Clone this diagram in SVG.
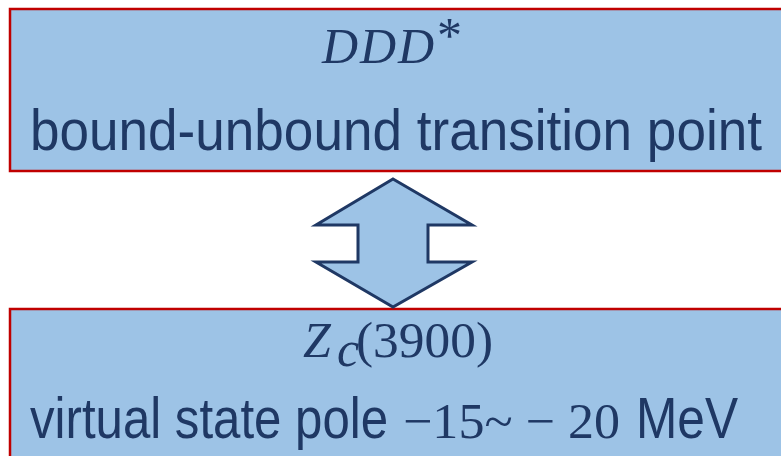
<svg xmlns="http://www.w3.org/2000/svg" width="781" height="456" viewBox="0 0 781 456">
  <style>
    .box { fill: #9DC3E6; stroke: #C00000; stroke-width: 2.5; }
    .lbl { fill: #1F3864; font-family: "Liberation Sans", Arial, sans-serif; font-size: 58px; }
    .math { fill: #1F3864; font-family: "Liberation Serif", "DejaVu Serif", serif; font-style: italic; font-size: 50px; }
    .num { fill: #1F3864; font-family: "Liberation Serif", "DejaVu Serif", serif; font-style: normal; font-size: 50px; }
    .arrow { fill: #9DC3E6; stroke: #1F3864; stroke-width: 3; stroke-linejoin: miter; }
  </style>
  <rect width="781" height="456" fill="#FFFFFF"/>
  <g id="top-node">
    <rect class="box" x="10" y="9" width="790" height="162"/>
    <text class="math" x="322" y="63" textLength="112" lengthAdjust="spacing">DDD</text>
    <text class="num" x="437" y="52" font-size="26">*</text>
    <text class="lbl" x="30" y="150" textLength="732" lengthAdjust="spacingAndGlyphs">bound-unbound transition point</text>
  </g>
  <g id="bottom-node">
    <rect class="box" x="10" y="309" width="790" height="170"/>
    <text class="math" x="303" y="357">Z</text>
    <text class="math" x="337" y="366" font-size="32">c</text>
    <text class="num" x="356" y="357" textLength="137" lengthAdjust="spacingAndGlyphs">(3900)</text>
    <text x="30" y="438" class="lbl" textLength="358" lengthAdjust="spacingAndGlyphs">virtual state pole</text>
    <text x="403" y="438" class="num" font-size="52" textLength="217" lengthAdjust="spacingAndGlyphs">−15~ − 20</text>
    <text x="636" y="438" class="lbl" textLength="102" lengthAdjust="spacingAndGlyphs">MeV</text>
  </g>
  <g id="connectors">
    <polygon class="arrow" points="393,179 472,225 428,225 428,262 472,262 393,307 316,262 358,262 358,225 316,225"/>
  </g>
</svg>
